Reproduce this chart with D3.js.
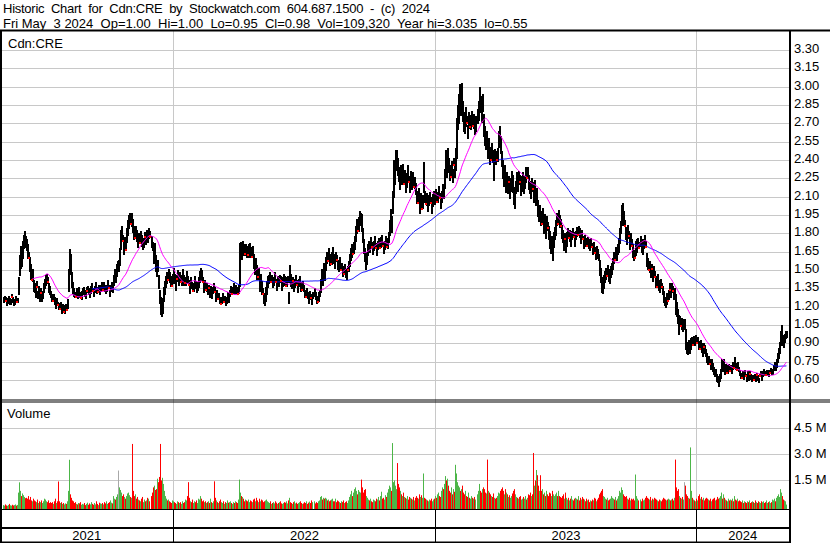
<!DOCTYPE html>
<html><head><meta charset="utf-8">
<script src="https://cdn.jsdelivr.net/npm/d3@7"></script>
<style>html,body{margin:0;padding:0;background:#fff;}svg{display:block;font-family:"Liberation Sans",Arial,sans-serif;}</style>
</head><body><svg id="c" width="830" height="543"></svg>
<script>
// Daily closes (weekdays from 2021-05-10 to 2024-05-03)
const closes=[
1.26,1.28,1.25,1.23,1.26,1.27,1.24,1.25,1.28,1.26,1.23,1.25,1.27,1.24,1.26,
1.38,1.52,1.62,1.58,1.68,1.74,1.78,1.72,
1.70,1.65,1.60,1.55,1.48,1.42,1.45,1.38,
1.35,1.32,1.36,1.30,1.33,1.28,1.31,1.27,1.30,1.34,
1.38,1.42,1.44,1.40,1.36,1.33,1.30,
1.27,1.25,1.28,1.24,1.22,1.25,1.21,
1.20,1.18,1.21,1.17,1.19,1.16,1.18,1.20,1.17,1.22,
1.45,1.62,1.55,1.42,1.35,
1.32,1.30,1.28,1.31,1.29,1.33,1.30,1.27,1.29,1.32,1.34,1.31,1.29,1.33,1.35,1.32,1.30,1.34,1.36,1.33,1.31,1.35,1.37,1.34,1.32,1.36,1.33,1.35,
1.37,1.34,1.38,1.35,1.33,1.36,1.39,1.35,1.32,1.35,1.38,1.34,
1.42,1.46,1.44,1.50,1.53,1.53,
1.62,1.75,1.80,1.74,1.68,1.72,1.66,
1.78,1.85,1.90,1.93,1.88,1.92,1.86,
1.80,1.76,1.82,1.78,1.74,
1.76,1.72,1.78,1.74,1.70,1.73,1.77,1.75,1.79,1.76,1.80,1.77,1.74,1.70,
1.62,1.66,1.55,1.50,1.53,1.40,
1.28,1.20,1.15,1.22,1.30,1.36,
1.40,1.44,1.42,1.47,1.45,1.40,1.37,1.44,1.48,1.42,1.38,1.43,1.46,1.41,
1.44,1.40,1.42,1.46,1.43,1.39,1.41,1.45,1.42,1.38,1.35,1.40,1.37,1.33,1.36,1.41,1.38,1.34,1.37,1.40,
1.44,1.48,1.45,1.40,1.36,1.38,1.34,
1.36,1.32,1.35,1.31,1.34,1.30,1.33,1.36,1.32,
1.28,1.31,1.26,1.29,1.25,1.22,1.26,1.28,1.24,1.27,1.23,1.26,1.29,1.27,
1.31,1.34,1.30,1.33,1.36,1.32,1.35,1.33,1.30,1.34,
1.62,1.68,1.64,1.70,1.66,1.63,1.67,1.65,1.62,1.66,1.68,1.64,1.61,1.65,
1.58,1.52,1.55,1.48,1.44,1.47,
1.38,1.42,1.35,1.30,1.27,1.24,1.30,1.36,1.40,
1.42,1.45,1.40,1.43,1.38,1.41,1.44,1.40,1.37,1.42,1.39,1.43,1.41,1.38,1.40,1.44,1.41,1.37,1.40,1.42,
1.28,1.48,1.42,
1.38,1.41,1.36,1.40,1.43,1.38,1.35,1.39,1.42,1.37,1.34,1.38,1.35,
1.31,1.28,1.32,1.29,1.26,1.30,1.27,1.25,1.29,1.32,1.28,1.26,1.24,1.28,1.31,
1.38,1.45,1.42,1.50,1.47,
1.55,1.60,1.57,1.62,1.58,1.55,1.60,1.64,1.59,
1.56,1.60,1.58,1.55,1.52,1.56,1.50,1.53,1.49,1.47,1.51,1.48,1.46,1.50,1.53,
1.58,1.62,1.66,1.63,1.68,1.72,
1.80,1.85,1.82,1.88,1.92,1.95,1.86,
1.78,1.70,1.62,1.55,1.60,1.66,1.70,
1.68,1.72,1.69,1.66,1.70,1.73,1.68,1.65,
1.70,1.73,1.68,1.72,1.75,1.70,1.67,1.71,1.74,1.69,1.72,1.76,
1.85,1.92,1.88,2.05,2.20,
2.30,2.40,2.44,2.35,2.28,2.22,2.30,
2.25,2.32,2.20,2.27,2.18,2.24,2.30,2.22,2.19,2.26,
2.20,2.24,2.18,2.22,2.16,
2.10,2.05,2.12,2.02,2.08,2.00,2.06,2.20,
2.10,2.04,2.08,2.02,2.06,2.10,2.05,2.01,2.07,2.11,
2.08,2.12,2.06,2.10,2.14,2.09,2.05,2.11,2.15,2.12,
2.25,2.38,2.32,2.42,2.35,
2.30,2.26,2.33,2.28,2.36,2.31,2.40,
2.62,2.75,2.82,
2.92,2.85,2.95,2.80,2.72,
2.68,2.76,2.70,2.64,2.73,2.67,2.71,
2.74,2.68,2.72,2.66,2.70,2.75,2.80,
2.92,2.85,2.78,2.88,2.70,
2.60,2.55,2.58,2.50,2.52,
2.45,2.40,2.48,2.43,2.39,2.44,
2.42,2.40,2.45,2.58,2.62,2.52,2.40,
2.32,2.25,2.30,2.20,2.24,
2.18,2.22,2.15,2.20,2.25,
2.20,2.12,2.08,2.18,2.24,
2.20,2.26,2.22,2.16,2.21,2.25,2.18,
2.22,2.28,2.25,2.30,2.22,2.18,
2.15,2.20,2.16,2.12,2.18,
2.08,2.12,2.00,1.95,1.98,
1.92,1.88,1.95,1.85,1.90,1.82,1.88,1.84,1.80,
1.76,1.70,1.72,1.66,1.75,1.80,
1.85,1.92,1.88,1.95,1.90,1.86,1.82,
1.78,1.72,1.75,1.70,1.76,
1.80,1.76,1.79,1.74,1.78,1.81,1.77,1.74,
1.78,1.82,1.79,1.83,1.80,1.76,1.79,1.75,1.72,1.76,
1.73,1.70,1.74,1.71,1.68,1.72,1.69,
1.66,1.70,1.64,1.62,1.67,1.63,1.60,
1.52,1.45,1.38,1.33,1.40,
1.44,1.48,1.45,1.50,1.46,1.42,1.48,1.52,
1.56,1.60,1.58,1.64,1.62,1.66,1.70,
1.78,1.85,1.95,2.00,1.92,1.86,
1.80,1.75,1.82,1.78,1.72,1.76,1.70,
1.66,1.62,1.60,1.68,1.70,
1.72,1.68,1.74,1.70,1.66,1.72,1.75,1.69,
1.58,1.55,1.50,1.53,1.48,1.51,1.46,1.49,1.44,
1.40,1.36,1.42,1.38,1.35,1.39,1.36,1.33,
1.28,1.24,1.22,1.27,1.25,
1.30,1.34,1.31,1.36,1.33,1.29,1.31,
1.22,1.18,1.12,1.05,
1.08,1.04,1.07,1.03,1.06,1.06,
0.90,0.86,0.84,0.88,0.85,0.90,
0.92,0.89,0.93,0.91,0.94,0.90,0.92,
0.88,0.85,0.90,0.86,0.83,0.87,0.85,0.82,
0.78,0.75,0.77,0.73,0.72,0.74,0.70,
0.68,0.65,0.66,0.62,0.60,0.58,0.62,
0.66,0.72,0.70,0.74,0.68,
0.70,0.66,0.69,0.71,0.67,0.70,
0.68,0.72,0.70,0.75,0.71,0.68,0.72,0.69,0.66,
0.64,0.62,0.65,0.63,0.66,0.63,0.61,0.64,0.62,0.65,0.63,0.61,
0.62,0.60,0.63,0.61,0.64,0.62,0.60,0.63,0.65,0.62,
0.65,0.67,0.66,0.64,0.66,0.67,0.65,0.66,0.68,0.66,0.67,0.70,
0.72,0.70,0.74,0.78,0.82,0.86,
0.95,1.00,0.93,0.90,0.95,0.97,0.98];
// Daily high above close (cents)
const highAboveCents=[
2,1,3,2,1,2,3,1,2,2,3,1,2,2,1,
6,10,8,6,6,5,4,6,
5,6,5,6,7,5,6,4,
4,3,5,3,4,2,4,3,3,5,
5,4,3,4,3,4,3,
3,3,2,4,3,2,3,
3,2,3,2,3,2,3,2,3,4,
6,5,8,6,5,
3,2,3,4,2,3,2,3,4,3,2,3,4,3,2,3,2,3,3,2,3,2,3,2,3,2,3,3,
3,3,2,3,3,2,3,3,2,3,2,3,
4,5,4,5,4,5,
6,8,6,5,6,5,6,
6,6,5,4,5,5,6,
6,5,4,5,4,
4,5,4,5,4,3,4,5,4,3,4,5,4,3,
8,6,7,6,5,6,
6,8,6,5,6,5,
5,4,5,4,3,5,4,3,4,5,4,3,4,5,
4,3,4,5,3,4,3,4,3,4,3,4,3,4,3,4,3,4,3,4,
5,4,5,4,3,4,3,
3,4,3,4,3,4,3,3,4,
3,3,3,2,3,3,2,3,3,2,3,2,3,3,
3,3,2,3,3,2,3,3,2,4,
10,5,6,4,5,6,4,5,4,5,4,5,4,5,
5,6,5,6,4,5,
6,5,6,5,4,4,6,5,5,
4,3,4,3,4,3,4,3,4,3,4,3,4,3,4,3,4,3,4,3,
4,6,5,
4,3,4,3,3,4,3,4,3,3,4,3,3,
3,4,3,3,4,3,3,4,3,3,4,3,3,4,3,
5,6,5,6,5,
6,5,5,6,5,4,5,5,4,
4,5,4,3,4,5,4,3,4,3,4,3,4,3,4,
5,6,5,4,5,6,
6,7,6,5,6,2,10,
6,5,6,7,5,5,4,
4,5,4,3,4,5,4,3,
4,3,4,5,4,3,4,3,4,5,4,5,
6,8,6,10,20,
8,8,4,7,6,5,6,
6,5,6,5,6,5,6,5,6,5,
5,6,5,4,5,
5,6,5,6,5,6,5,18,
5,6,5,4,5,4,5,4,5,4,
5,4,5,4,5,4,5,4,5,4,
8,10,7,8,7,
6,7,6,5,6,5,10,
12,10,12,
10,8,8,8,7,
6,7,6,5,6,5,6,
6,5,6,5,6,7,8,
8,7,6,6,8,
8,7,6,8,6,
6,7,6,5,6,5,
5,6,5,6,6,8,7,
8,7,6,8,6,
6,5,6,5,6,
8,6,7,5,6,
6,5,6,5,6,5,6,
5,6,5,4,6,5,
6,5,6,5,6,
6,5,7,6,5,
6,5,6,5,6,5,6,5,6,
6,5,6,5,6,5,
6,5,6,4,5,6,5,
5,6,5,6,5,
4,5,4,5,4,3,4,5,
4,3,4,3,4,5,4,3,4,3,
3,4,3,4,3,4,3,
4,3,5,4,3,4,3,
6,7,6,5,6,
5,4,5,4,5,4,5,4,
4,5,4,5,4,5,6,
6,5,8,5,6,5,
5,6,5,4,5,4,5,
5,4,5,6,5,
4,5,4,5,4,3,4,5,
6,5,5,4,5,4,5,4,5,
5,4,5,4,3,4,3,4,
5,4,5,4,3,
4,5,4,3,4,5,4,
8,6,6,8,
4,5,4,5,4,4,
12,5,4,5,4,4,
3,4,3,2,3,4,3,
4,3,3,4,3,3,4,3,
4,3,3,4,3,3,4,
3,4,3,3,3,3,3,
3,5,3,3,3,
3,2,3,2,3,2,
2,3,2,4,3,2,3,2,2,
2,2,2,3,2,2,2,3,2,2,2,2,
2,2,2,2,2,2,2,2,2,2,
2,2,1,2,2,1,2,2,2,1,2,2,
3,2,3,4,4,5,
5,5,4,3,3,3,2];
// Daily low below close (cents)
const lowBelowCents=[
2,3,0,2,3,1,2,3,0,2,2,3,1,0,2,
8,6,10,5,8,6,5,3,
4,5,0,6,5,0,4,5,
3,4,0,3,2,3,0,2,3,2,
3,4,5,0,4,3,2,
2,0,3,2,3,2,0,
2,0,3,2,2,0,3,2,0,3,
12,10,8,6,4,
3,2,0,3,2,3,2,0,3,2,3,2,2,0,3,2,2,3,2,0,2,3,2,3,0,2,3,2,
2,0,3,2,2,3,2,0,3,2,3,2,
4,3,4,5,3,4,
8,8,6,0,5,4,0,
5,6,6,5,0,6,5,
5,0,6,4,5,
4,0,5,4,3,4,0,4,5,3,4,0,5,4,
6,5,6,5,4,5,
5,6,3,7,5,6,
4,5,0,4,5,3,0,5,4,3,4,0,5,3,
3,0,4,3,5,0,3,4,3,0,4,3,2,0,3,4,3,2,3,4,
4,5,3,0,4,3,0,
3,2,0,3,2,3,2,3,0,
3,2,0,3,2,0,3,2,0,3,2,3,2,3,
2,3,0,2,3,2,3,2,0,3,
25,6,5,6,4,0,5,4,0,5,4,3,0,4,
6,5,4,5,0,4,
5,6,5,0,4,3,5,6,4,
3,4,0,3,2,3,4,0,3,4,2,3,0,4,3,2,3,0,3,2,
5,8,5,
3,0,3,4,3,0,3,2,3,4,0,3,2,
3,0,3,2,3,4,0,3,2,3,2,3,0,3,2,
6,5,4,6,5,
5,4,0,5,4,0,5,4,3,
4,3,0,4,3,4,0,3,4,0,3,4,3,0,4,
5,4,5,0,4,5,
6,5,0,6,5,6,4,
5,6,5,4,5,4,5,
3,4,0,3,4,3,0,3,
3,4,0,3,4,0,3,4,3,0,4,3,
6,5,7,8,10,
10,8,8,7,5,6,5,
5,6,0,5,4,6,5,0,5,4,
4,5,0,5,4,
5,0,6,5,4,0,5,6,
4,0,5,4,3,5,0,4,5,4,
4,5,0,4,5,0,4,5,4,3,
8,10,6,8,5,
6,0,5,6,0,5,8,
20,10,12,
10,8,10,8,8,
6,8,0,6,7,0,6,
5,0,6,5,6,5,7,
8,6,7,8,10,
8,6,7,8,6,
8,0,6,5,15,5,
5,0,6,7,6,6,5,
7,6,5,6,5,
5,0,6,5,6,
6,8,7,5,6,
5,6,0,5,6,4,5,
5,6,0,5,6,5,
6,5,0,6,5,
5,6,6,5,4,
5,0,6,5,4,6,5,0,5,
8,6,5,8,6,5,
6,5,0,6,5,0,6,
5,6,0,5,6,
4,0,5,4,3,4,0,4,
3,4,0,4,3,4,3,0,4,3,
3,0,4,3,2,3,0,
3,4,0,3,4,3,2,
6,5,6,2,5,
4,5,0,4,5,3,4,5,
5,4,0,5,4,3,5,
6,5,8,6,5,0,
5,4,6,0,5,4,0,
5,4,0,6,5,
3,0,4,5,3,4,3,0,
5,4,0,5,4,0,5,4,0,
4,0,5,4,3,4,0,3,
4,3,2,5,0,
4,0,3,4,0,3,4,
8,6,5,7,
4,0,5,3,4,4,
5,4,3,5,3,5,
3,0,3,2,3,0,2,
3,0,4,3,3,0,3,2,
3,2,3,0,3,2,3,
3,2,3,3,2,3,3,
4,5,3,4,3,
2,0,3,2,0,3,
2,3,0,3,2,0,3,2,2,
2,0,2,2,2,0,2,2,2,0,2,2,
2,0,2,2,0,2,2,0,2,2,
2,1,2,0,2,1,2,0,2,1,2,2,
2,2,3,3,4,4,
6,5,4,3,4,3,3];
// Daily volume (units of 10,000 shares)
const volumes=[
8,5,12,6,4,9,15,7,5,10,6,8,12,5,9,
80,139,90,60,75,65,55,48,
50,45,60,40,55,35,30,45,
35,30,25,40,20,30,25,35,20,30,
45,40,30,25,35,20,25,
20,25,15,30,45,20,30,
144,30,20,25,15,20,12,18,15,30,
90,269,70,50,35,
30,20,25,15,12,20,18,25,10,15,12,20,8,15,22,10,18,12,25,15,10,20,12,30,15,8,22,18,
15,20,12,25,18,30,15,20,25,35,22,18,
60,45,40,55,70,207,
110,95,80,60,70,55,45,
60,75,80,65,55,50,360,
90,60,70,45,55,
40,35,30,45,55,25,40,30,35,50,45,30,60,80,
110,120,95,100,160,140,
170,360,150,165,130,90,
60,45,35,40,30,25,20,35,30,25,20,15,30,25,
20,25,15,30,20,25,40,35,60,140,50,30,25,40,20,30,25,35,20,45,
40,60,45,30,35,25,30,
20,25,30,20,45,25,20,30,145,
50,35,25,20,30,40,25,20,30,15,25,20,35,22,
25,30,20,15,25,20,30,25,20,40,
155,80,60,55,45,30,40,35,30,40,25,35,30,25,
40,45,30,50,35,25,
45,30,40,35,25,30,35,40,30,
25,20,30,15,20,25,18,30,22,15,20,25,30,18,15,20,25,22,30,18,
35,50,25,
20,15,25,30,18,22,15,20,25,30,20,15,18,
25,20,30,15,22,28,20,35,25,30,18,25,20,30,35,
55,60,40,50,45,
50,45,35,40,30,35,40,45,30,
30,45,25,35,30,25,20,30,25,35,20,25,30,20,35,
55,70,90,60,80,100,
110,90,70,95,85,80,155,
110,80,95,100,60,50,40,
35,45,30,25,40,35,30,45,
40,55,35,60,85,45,50,40,65,55,80,100,
120,110,90,365,140,
150,120,100,250,130,110,90,
70,60,80,55,50,45,60,40,55,50,
45,40,55,35,50,
60,50,45,70,55,65,50,190,
50,45,40,35,30,40,35,45,30,40,
45,60,50,70,80,60,55,90,110,100,
130,175,150,160,120,
90,80,110,70,100,85,240,
190,140,120,
110,90,100,120,80,
70,90,60,55,80,50,45,
60,50,45,55,40,70,90,
130,90,80,100,110,
100,80,75,270,90,
80,70,60,55,75,50,
45,50,60,80,75,90,100,
110,90,70,100,80,
70,55,65,50,60,
75,90,100,70,55,
50,45,55,60,40,45,55,
45,60,40,50,70,65,
80,60,70,308,120,
150,210,180,120,90,
180,90,100,70,80,60,90,70,60,
80,75,60,90,70,60,
70,80,60,90,60,55,50,
60,70,45,80,50,
40,50,35,45,60,40,35,45,
50,45,40,60,35,50,40,55,45,40,
30,45,35,40,25,35,30,
40,35,50,45,30,40,50,
70,80,90,100,60,
55,45,40,50,35,40,45,60,
50,45,40,55,35,45,60,
90,80,110,95,70,60,
55,60,45,40,50,35,45,
40,45,35,184,60,
45,35,40,30,45,35,40,50,
60,50,45,40,55,35,45,40,50,
45,40,35,30,40,35,30,40,
50,45,40,35,40,
45,40,35,40,45,35,50,
270,110,90,100,
60,50,45,55,40,140,
120,70,60,50,45,340,
90,50,40,35,30,45,35,
60,70,45,55,40,50,35,45,
50,45,40,35,45,30,40,
45,50,35,40,55,45,50,
60,80,45,70,50,
40,35,30,45,35,40,
35,45,30,60,40,35,45,30,35,
30,25,35,20,30,25,20,30,25,35,20,25,
30,25,20,35,25,20,30,25,20,30,
25,30,20,25,35,20,25,30,20,25,40,35,
45,30,50,60,70,55,
100,80,60,40,35,30,11];
const priceTicks=["0.60","0.75","0.90","1.05","1.20","1.35","1.50","1.65","1.80","1.95","2.10","2.25","2.40","2.55","2.70","2.85","3.00","3.15","3.30"];
const volumeTicks=[150,300,450];
const volumeTickLabels=["1.5 M","3.0 M","4.5 M"];
const maShortDays=30, maLongDays=90;
const NB="\u00a0";
const headerLine1=["Historic","Chart","for","Cdn:CRE","by","Stockwatch.com","604.687.1500","-","(c)","2024"].join(" "+NB);
const headerLine2=["Fri May"+NB+" 3 2024","Op=1.00","Hi=1.00","Lo=0.95","Cl=0.98","Vol=109,320","Year hi=3.035","lo=0.55"].join(NB+" ");
const symbolLabel="Cdn:CRE";

const n=closes.length;
const dates=[];{let d=new Date(2021,4,10);while(dates.length<n){const w=d.getDay();if(w!==0&&w!==6)dates.push(new Date(d));d.setDate(d.getDate()+1);}}
const rows=closes.map((c,i)=>({i,c,h:c+(highAboveCents[i]||0)/100,l:c-(lowBelowCents[i]||0)/100,v:volumes[i]||0,date:dates[i],
  atLow:(lowBelowCents[i]===0)}));

const svg=d3.select("#c");
const W=830,H=543,plotR=789;
const x=d3.scaleLinear().domain([0,n-1]).range([2.6,786.4]);
const y=d3.scaleLinear().domain([0.60,3.30]).range([380,50]);
const yv=d3.scaleLinear().domain([0,450]).range([506.5,428.3]);

svg.append("rect").attr("width",W).attr("height",H).attr("fill","#fff");
const g=svg.append("g");
g.selectAll(".hg").data(priceTicks).join("line").attr("x1",0).attr("x2",plotR).attr("y1",d=>Math.round(y(+d))+0.5).attr("y2",d=>Math.round(y(+d))+0.5).attr("stroke","#c8c8c8");
g.selectAll(".vg").data(volumeTicks).join("line").attr("x1",0).attr("x2",plotR).attr("y1",d=>Math.round(yv(d))+0.5).attr("y2",d=>Math.round(yv(d))+0.5).attr("stroke","#c8c8c8");
const yearStarts=[];for(let i=1;i<n;i++){if(dates[i].getFullYear()!==dates[i-1].getFullYear())yearStarts.push(i);}
const yearX=yearStarts.map(i=>Math.round(x(i)-0.5)+0.5);
yearX.forEach(xx=>{g.append("line").attr("x1",xx).attr("x2",xx).attr("y1",31).attr("y2",509).attr("stroke","#c8c8c8");});

function ma(k){return rows.map((r,i)=>i<k-1?null:d3.mean(closes.slice(i-k+1,i+1)));}
const maS=ma(maShortDays),maL=ma(maLongDays);
const line=d3.line().defined(d=>d[1]!=null).x(d=>x(d[0])).y(d=>y(d[1]));
// price bars (high-low), 2px pen
g.selectAll(".bar").data(rows).join("rect").attr("x",d=>Math.round(x(d.i))).attr("width",2)
 .attr("y",d=>Math.round(y(d.h))).attr("height",d=>Math.round(y(d.l))-Math.round(y(d.h))+1).attr("fill","#000");
g.append("path").attr("d",line(maL.map((v,i)=>[i,v]))).attr("fill","none").attr("stroke","#0000ff").attr("stroke-width",1);
g.append("path").attr("d",line(maS.map((v,i)=>[i,v]))).attr("fill","none").attr("stroke","#ff00ff").attr("stroke-width",1);
g.selectAll(".dot").data(rows.filter(r=>r.atLow)).join("rect").attr("x",d=>Math.round(x(d.i))).attr("y",d=>Math.round(y(d.c))-1).attr("width",2).attr("height",2).attr("fill","#ff0000");

g.selectAll(".vb").data(rows).join("rect").attr("x",d=>Math.round(x(d.i))).attr("width",1)
 .attr("y",d=>yv(d.v)).attr("height",d=>509-yv(d.v))
 .attr("fill",(d,i)=>i===0?"#4cb648":(d.c>rows[i-1].c?"#4cb648":(d.c<rows[i-1].c?"#ff0000":"#a8a8a8")));

const K="#000";
function hl(y0,x0,x1,w){svg.append("rect").attr("x",x0).attr("y",y0).attr("width",x1-x0).attr("height",w).attr("fill",K);}
function vl(x0,y0,y1,w){svg.append("rect").attr("x",x0).attr("y",y0).attr("width",w).attr("height",y1-y0).attr("fill",K);}
hl(29.5,0,W,2);
hl(399.5,0,W,1);hl(401.5,0,W,1);
hl(509,0,plotR+2,1);
hl(527,0,plotR+2,2);
hl(541.5,0,plotR+2,1.5);
vl(0,30,543,2);
vl(plotR,30,543,2);
yearX.forEach(xx=>{vl(Math.floor(xx),510,543,1);});

const T=svg.append("g").attr("fill","#000").style("font-size","13px");
T.append("text").attr("x",3).attr("y",13).attr("textLength",427).attr("lengthAdjust","spacing").text(headerLine1);
T.append("text").attr("x",3).attr("y",28).text(headerLine2);
T.append("text").attr("x",8).attr("y",48).text(symbolLabel);
T.append("text").attr("x",7).attr("y",418).text("Volume");
T.selectAll(".pt").data(priceTicks).join("text").attr("x",794).attr("y",d=>y(+d)+3).text(d=>d);
T.selectAll(".vt").data(volumeTicks).join("text").attr("x",794).attr("y",d=>yv(d)+4).text((d,i)=>volumeTickLabels[i]);
const yearBounds=[0,...yearX,plotR];
T.selectAll(".yl").data(yearBounds.slice(0,-1)).join("text").attr("x",(d,i)=>(d+yearBounds[i+1])/2).attr("y",540).attr("text-anchor","middle")
 .text((d,i)=>String(2021+i));
</script></body></html>
